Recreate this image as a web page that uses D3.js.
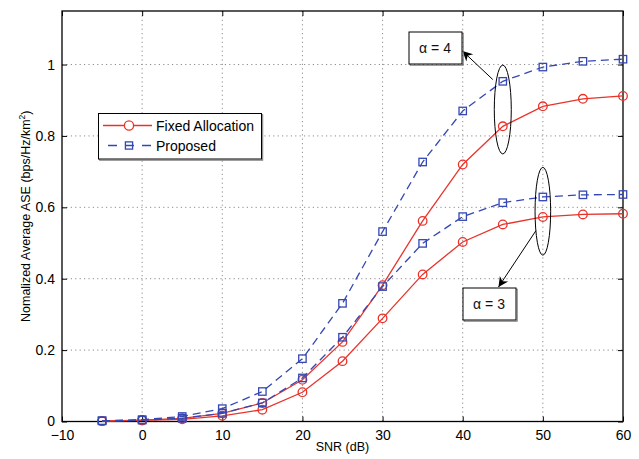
<!DOCTYPE html>
<html>
<head>
<meta charset="utf-8">
<script src="https://cdn.jsdelivr.net/npm/d3@7"></script>
<style>
  html, body { margin: 0; padding: 0; background: #fff; }
  svg { display: block; font-family: "Liberation Sans", Arial, Helvetica, sans-serif; }
</style>
</head>
<body>
<svg id="chart" width="639" height="459"></svg>
<script>
// SNR values (dB)
const snr = [-5, 0, 5, 10, 15, 20, 25, 30, 35, 40, 45, 50, 55, 60];

// Normalized average ASE, path-loss exponent alpha = 4
const fixedA4    = [0.001, 0.004, 0.009, 0.023, 0.052, 0.117, 0.223, 0.382, 0.562, 0.720, 0.827, 0.883, 0.904, 0.912];
const proposedA4 = [0.002, 0.005, 0.014, 0.036, 0.084, 0.176, 0.331, 0.532, 0.727, 0.870, 0.953, 0.993, 1.009, 1.015];

// Normalized average ASE, path-loss exponent alpha = 3
const fixedA3    = [0.001, 0.003, 0.006, 0.016, 0.033, 0.082, 0.169, 0.289, 0.412, 0.503, 0.552, 0.573, 0.580, 0.582];
const proposedA3 = [0.002, 0.004, 0.009, 0.023, 0.052, 0.122, 0.236, 0.378, 0.499, 0.574, 0.613, 0.629, 0.635, 0.636];

// Axis ticks
const xTicks = [-10, 0, 10, 20, 30, 40, 50, 60];
const yTicks = [0, 0.2, 0.4, 0.6, 0.8, 1];
const yTickLabels = ["0", "0.2", "0.4", "0.6", "0.8", "1"];

const legendLabels = ["Fixed Allocation", "Proposed"];

const RED = "#e8332b";
const BLUE = "#3547b2";

const svg = d3.select("#chart");
const W = 639, H = 459;
const margin = { left: 62, right: 16, top: 11, bottom: 37.5 };
const iw = W - margin.left - margin.right;
const ih = H - margin.top - margin.bottom;

const x = d3.scaleLinear().domain([-10, 60]).range([0, iw]);
const y = d3.scaleLinear().domain([0, 1.15]).range([ih, 0]);

const g = svg.append("g").attr("transform", `translate(${margin.left},${margin.top})`);

// dotted grid
const grid = g.append("g");
grid.selectAll("line.vg").data(xTicks.slice(1, -1)).join("line")
  .attr("x1", d => x(d)).attr("x2", d => x(d))
  .attr("y1", 0).attr("y2", ih)
  .attr("stroke", "#8c8c8c").attr("stroke-width", 1).attr("stroke-dasharray", "1.2,3.2");
grid.selectAll("line.hg").data(yTicks.slice(1)).join("line")
  .attr("x1", 0).attr("x2", iw)
  .attr("y1", d => y(d)).attr("y2", d => y(d))
  .attr("stroke", "#8c8c8c").attr("stroke-width", 1).attr("stroke-dasharray", "1.2,3.2");

// axes with inward ticks on all four sides
const tickLen = 5;
const xAxisB = d3.axisBottom(x).tickValues(xTicks).tickSizeInner(-tickLen).tickSizeOuter(0)
  .tickPadding(9).tickFormat(d => d < 0 ? "\u2212" + Math.abs(d) : d);
const xAxisT = d3.axisTop(x).tickValues(xTicks).tickSizeInner(-tickLen).tickSizeOuter(0).tickFormat("");
const yAxisL = d3.axisLeft(y).tickValues(yTicks).tickSizeInner(-tickLen).tickSizeOuter(0)
  .tickPadding(7).tickFormat((d, i) => yTickLabels[i]);
const yAxisR = d3.axisRight(y).tickValues(yTicks).tickSizeInner(-tickLen).tickSizeOuter(0).tickFormat("");

function styleAxis(sel) {
  sel.select(".domain").remove();
  sel.selectAll(".tick line").attr("stroke", "#000").attr("stroke-width", 1);
  sel.selectAll(".tick text").attr("fill", "#000").attr("font-size", 14)
     .attr("font-family", "'Liberation Sans', Arial, sans-serif");
}
g.append("g").attr("transform", `translate(0,${ih})`).call(xAxisB).call(styleAxis);
g.append("g").call(xAxisT).call(styleAxis);
g.append("g").call(yAxisL).call(styleAxis);
g.append("g").attr("transform", `translate(${iw},0)`).call(yAxisR).call(styleAxis);

// frame
g.append("rect").attr("x", 0).attr("y", 0).attr("width", iw).attr("height", ih)
  .attr("fill", "none").attr("stroke", "#000").attr("stroke-width", 1.3);

// axis titles
svg.append("text")
  .attr("x", margin.left + iw / 2).attr("y", 451)
  .attr("text-anchor", "middle").attr("font-size", 12.5).attr("fill", "#000")
  .text("SNR (dB)");

const yl = svg.append("text")
  .attr("transform", `translate(30,${margin.top + ih / 2}) rotate(-90)`)
  .attr("text-anchor", "middle").attr("font-size", 12.5).attr("fill", "#000");
yl.append("tspan").text("Nomalized Average ASE (bps/Hz/km");
yl.append("tspan").attr("font-size", 8.5).attr("dy", -5).text("2");
yl.append("tspan").attr("dy", 5).text(")");

// series
const line = d3.line().x(d => x(d[0])).y(d => y(d[1]));
const series = [
  { vals: fixedA4, color: RED, dash: null, marker: "circle" },
  { vals: fixedA3, color: RED, dash: null, marker: "circle" },
  { vals: proposedA4, color: BLUE, dash: "8,5", marker: "square" },
  { vals: proposedA3, color: BLUE, dash: "8,5", marker: "square" }
];

const plot = g.append("g");
series.forEach(s => {
  const pts = snr.map((v, i) => [v, s.vals[i]]);
  plot.append("path").datum(pts)
    .attr("d", line).attr("fill", "none")
    .attr("stroke", s.color).attr("stroke-width", 1.3)
    .attr("stroke-dasharray", s.dash);
  if (s.marker === "circle") {
    plot.append("g").selectAll("circle").data(pts).join("circle")
      .attr("cx", d => x(d[0])).attr("cy", d => y(d[1])).attr("r", 4.3)
      .attr("fill", "none").attr("stroke", s.color).attr("stroke-width", 1.3);
  } else {
    const sz = 7.4;
    plot.append("g").selectAll("rect").data(pts).join("rect")
      .attr("x", d => x(d[0]) - sz / 2).attr("y", d => y(d[1]) - sz / 2)
      .attr("width", sz).attr("height", sz)
      .attr("fill", "none").attr("stroke", s.color).attr("stroke-width", 1.3);
  }
});

// annotations: ellipses grouping alpha curves, arrows and labelled boxes
svg.append("defs").append("marker")
  .attr("id", "arrowhead").attr("viewBox", "0 0 10 10")
  .attr("refX", 10).attr("refY", 5)
  .attr("markerWidth", 12).attr("markerHeight", 10).attr("markerUnits", "userSpaceOnUse")
  .attr("orient", "auto")
  .append("path").attr("d", "M0,0 L10,5 L0,10 L3,5 Z").attr("fill", "#000");

const annotations = [
  { label: "\u03b1 = 4", cx: 45, cy: 0.874, ry: 0.1245, rx: 8.5,
    from: [-10, -30], box: { x: 409, y: 32, w: 53, h: 32 }, tip: [462.5, 51] },
  { label: "\u03b1 = 3", cx: 50, cy: 0.589, ry: 0.123, rx: 7.8,
    from: [-7, 19.5], box: { x: 463, y: 288, w: 53, h: 32 }, tip: [498.5, 287] }
];

annotations.forEach(a => {
  const ex = margin.left + x(a.cx), ey = margin.top + y(a.cy);
  const ryPx = y(0) - y(a.ry);
  svg.append("ellipse").attr("cx", ex).attr("cy", ey)
    .attr("rx", a.rx).attr("ry", ryPx)
    .attr("fill", "none").attr("stroke", "#000").attr("stroke-width", 1);
  svg.append("line")
    .attr("x1", ex + a.from[0]).attr("y1", ey + a.from[1])
    .attr("x2", a.tip[0]).attr("y2", a.tip[1])
    .attr("stroke", "#000").attr("stroke-width", 1)
    .attr("marker-end", "url(#arrowhead)");
  // label box with a faint shadow
  svg.append("rect").attr("x", a.box.x + 1.2).attr("y", a.box.y + 1.2)
    .attr("width", a.box.w).attr("height", a.box.h)
    .attr("fill", "none").attr("stroke", "#777").attr("stroke-width", 1);
  svg.append("rect").attr("x", a.box.x).attr("y", a.box.y)
    .attr("width", a.box.w).attr("height", a.box.h)
    .attr("fill", "#fff").attr("stroke", "#000").attr("stroke-width", 1);
  svg.append("text").attr("x", a.box.x + a.box.w / 2 - 0.5).attr("y", a.box.y + a.box.h / 2 + 5)
    .attr("text-anchor", "middle").attr("font-size", 14).attr("fill", "#111")
    .text(a.label);
});

// legend
const lg = svg.append("g");
const lx = 98.5, ly = 113.5, lw = 163, lh = 45.5;
lg.append("rect").attr("x", lx + 1.2).attr("y", ly + 1.2).attr("width", lw).attr("height", lh)
  .attr("fill", "none").attr("stroke", "#777").attr("stroke-width", 1);
lg.append("rect").attr("x", lx).attr("y", ly).attr("width", lw).attr("height", lh)
  .attr("fill", "#fff").attr("stroke", "#000").attr("stroke-width", 1);

const legendItems = [
  { label: legendLabels[0], color: RED, dash: null, marker: "circle", yy: 125.5 },
  { label: legendLabels[1], color: BLUE, dash: "8,5", marker: "square", yy: 145.5 }
];
legendItems.forEach(it => {
  lg.append("line").attr("x1", 103).attr("x2", 152).attr("y1", it.yy).attr("y2", it.yy)
    .attr("stroke", it.color).attr("stroke-width", 1.3)
    .attr("stroke-dasharray", it.dash ? "9,8" : null)
    .attr("stroke-dashoffset", it.dash ? -5 : null);
  if (it.marker === "circle") {
    lg.append("circle").attr("cx", 129).attr("cy", it.yy).attr("r", 4.6)
      .attr("fill", "#fff").attr("stroke", it.color).attr("stroke-width", 1.3);
  } else {
    lg.append("rect").attr("x", 129 - 3.6).attr("y", it.yy - 3.6).attr("width", 7.2).attr("height", 7.2)
      .attr("fill", "none").attr("stroke", it.color).attr("stroke-width", 1.3);
  }
  lg.append("text").attr("x", 156).attr("y", it.yy + 5).attr("font-size", 14).attr("fill", "#000")
    .text(it.label);
});
</script>
</body>
</html>
